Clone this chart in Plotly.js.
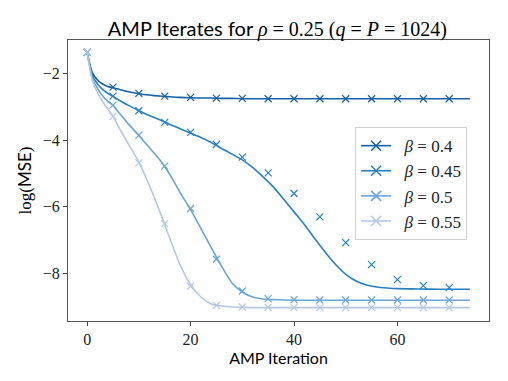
<!DOCTYPE html>
<html>
<head>
<meta charset="utf-8">
<script src="https://cdn.plot.ly/plotly-3.0.1.min.js"></script>
<style>
  html, body { margin: 0; padding: 0; background: #fff; }
  #g { width: 508px; height: 381px; }
</style>
</head>
<body>
<div id="g"></div>
<script>
(function () {
    // Courbes (évolution d'état)
    const lineIter = [0, 1, 2, 3, 4, 5, 6, 8, 10, 12, 14, 16, 18, 20, 22, 24, 26, 28, 30, 32, 34, 36, 38, 40,
                      42, 44, 46, 48, 50, 52, 54, 56, 58, 60, 64, 68, 74];
    const line_b040 = [-1.37, -1.98, -2.20, -2.32, -2.39, -2.43, -2.47, -2.55, -2.61, -2.65, -2.68, -2.70, -2.72, -2.73, -2.74, -2.74, -2.75, -2.75, -2.76, -2.76, -2.76, -2.76, -2.76, -2.76,
                       -2.76, -2.76, -2.76, -2.76, -2.76, -2.76, -2.76, -2.76, -2.76, -2.76, -2.76, -2.76, -2.76];
    const line_b045 = [-1.37, -2.05, -2.32, -2.48, -2.60, -2.69, -2.79, -2.96, -3.12, -3.26, -3.39, -3.53, -3.66, -3.79, -3.92, -4.07, -4.25, -4.42, -4.59, -4.82, -5.10, -5.40, -5.77, -6.15,
                       -6.53, -6.95, -7.35, -7.72, -8.02, -8.22, -8.34, -8.40, -8.43, -8.45, -8.46, -8.47, -8.47];
    const line_b050 = [-1.37, -2.15, -2.45, -2.68, -2.84, -2.96, -3.15, -3.52, -3.86, -4.22, -4.58, -5.03, -5.58, -6.08, -6.65, -7.22, -7.78, -8.28, -8.55, -8.70, -8.76, -8.78, -8.79, -8.80,
                       -8.80, -8.80, -8.80, -8.80, -8.80, -8.80, -8.80, -8.80, -8.80, -8.80, -8.80, -8.80, -8.80];
    const line_b055 = [-1.37, -2.20, -2.58, -2.85, -3.07, -3.28, -3.58, -4.12, -4.66, -5.35, -6.12, -6.95, -7.75, -8.33, -8.70, -8.91, -8.97, -9.00, -9.01, -9.02, -9.02, -9.02, -9.02, -9.02,
                       -9.02, -9.02, -9.02, -9.02, -9.02, -9.02, -9.02, -9.02, -9.02, -9.02, -9.02, -9.02, -9.02];

    // Itérés AMP (marqueurs x) tous les 5 pas
    const markIter = [0, 5, 10, 15, 20, 25, 30, 35, 40, 45, 50, 55, 60, 65, 70];
    const mark_b040 = [-1.37, -2.41, -2.60, -2.68, -2.72, -2.74, -2.75, -2.76, -2.76, -2.76, -2.76, -2.76, -2.76, -2.76, -2.76];
    const mark_b045 = [-1.37, -2.68, -3.12, -3.47, -3.77, -4.13, -4.51, -4.98, -5.60, -6.30, -7.07, -7.73, -8.18, -8.36, -8.42];
    const mark_b050 = [-1.37, -2.95, -3.85, -4.78, -6.05, -7.57, -8.52, -8.75, -8.78, -8.79, -8.79, -8.79, -8.79, -8.79, -8.79];
    const mark_b055 = [-1.37, -3.29, -4.68, -6.50, -8.38, -8.95, -9.00, -9.01, -9.02, -9.02, -9.02, -9.02, -9.02, -9.02, -9.02];

    const betaLabels = ['0.4', '0.45', '0.5', '0.55'];
    const colors = ['#1761a0', '#2a80bf', '#6aa5d4', '#b4c8e5'];

    const lines = [line_b040, line_b045, line_b050, line_b055];
    const marks = [mark_b040, mark_b045, mark_b050, mark_b055];

    const serif = 'Liberation Serif';
    const sans = 'Lato';

    const traces = [];
    for (let k = 0; k < 4; k++) {
        traces.push({
            x: lineIter, y: lines[k], mode: 'lines', showlegend: false,
            line: { color: colors[k], width: 1.6, shape: 'spline', smoothing: 0.6 },
            hoverinfo: 'skip'
        });
        traces.push({
            x: markIter, y: marks[k], mode: 'markers', showlegend: false,
            marker: { symbol: 'x-thin', size: 7, line: { color: colors[k], width: 1.2 } }
        });
        // entrée de légende : ligne + croix
        traces.push({
            x: [null], y: [null], mode: 'lines+markers',
            name: '\u2002<i>β</i> = ' + betaLabels[k],
            line: { color: colors[k], width: 1.6 },
            marker: { symbol: 'x-thin', size: 10, line: { color: colors[k], width: 1.5 } }
        });
    }

    const layout = {
        width: 508, height: 381,
        margin: { l: 68, r: 19, t: 40, b: 60 },
        paper_bgcolor: '#fff', plot_bgcolor: '#fff',
        title: {
            text: 'AMP Iterates for <span style="font-family:Liberation Serif;"><i>ρ</i> = 0.25 (<i>q</i> = <i>P</i> = 1024)</span>',
            font: { family: sans, size: 20, color: '#000' },
            x: 0.546, xanchor: 'center', y: 0.925, yanchor: 'middle'
        },
        xaxis: {
            range: [-3.7, 77.7],
            tickvals: [0, 20, 40, 60],
            ticks: 'outside', ticklen: 4, tickcolor: '#444',
            showgrid: false, zeroline: false,
            showline: true, mirror: true, linecolor: '#555', linewidth: 1,
            tickfont: { family: serif, size: 16, color: '#222' },
            title: { text: 'AMP Iteration', font: { family: sans, size: 16, color: '#000' }, standoff: 4 }
        },
        yaxis: {
            range: [-9.42, -1.0],
            tickvals: [-8, -6, -4, -2],
            ticks: 'outside', ticklen: 4, tickcolor: '#444',
            showgrid: false, zeroline: false,
            showline: true, mirror: true, linecolor: '#555', linewidth: 1,
            tickfont: { family: serif, size: 16, color: '#222' },
            title: {
                text: '<span style="font-family:Liberation Serif;">log(</span>MSE<span style="font-family:Liberation Serif;">)</span>',
                font: { family: sans, size: 17, color: '#000' }, standoff: 6
            }
        },
        legend: {
            x: 0.682, y: 0.69, xanchor: 'left', yanchor: 'top',
            bgcolor: 'rgba(255,255,255,0.8)', bordercolor: '#d0d0d0', borderwidth: 1,
            font: { family: serif, size: 17, color: '#222' },
            tracegroupgap: 0
        }
    };

    Plotly.newPlot('g', traces, layout, { staticPlot: true });
})();
</script>
</body>
</html>
